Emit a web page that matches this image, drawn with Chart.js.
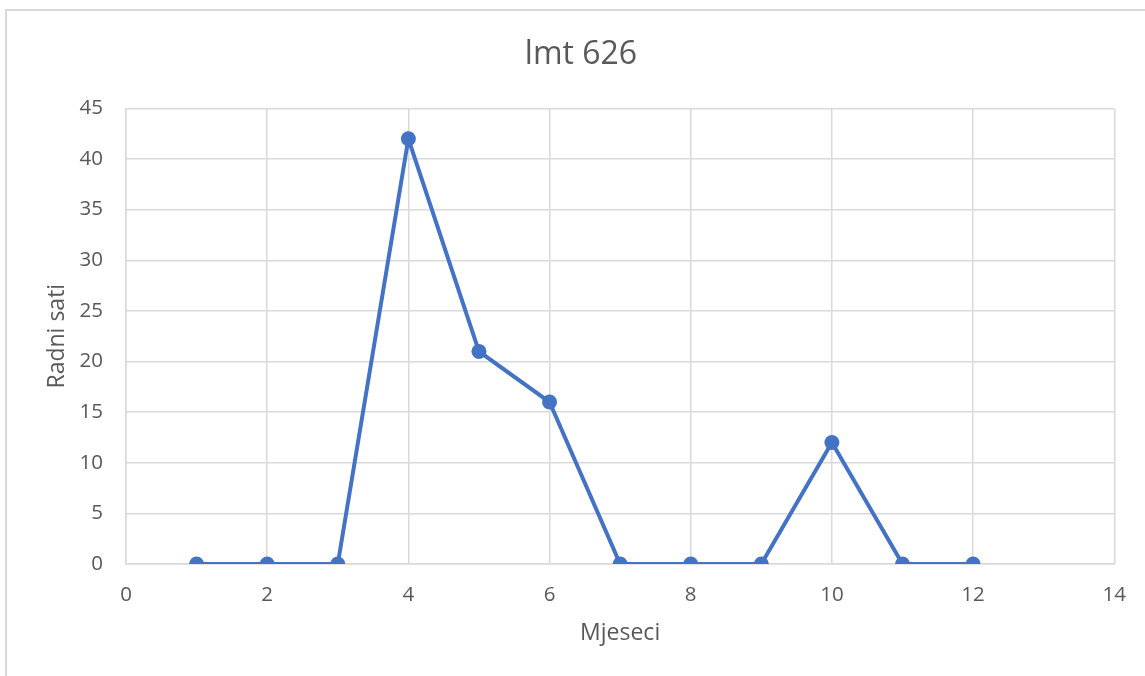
<!DOCTYPE html>
<html>
<head>
<meta charset="utf-8">
<script src="https://cdn.jsdelivr.net/npm/chart.js@4/dist/chart.umd.min.js"></script>
<style>
  html, body { margin: 0; padding: 0; background: #fff; overflow: hidden; }
  #frame { position: absolute; left: 5px; top: 9px; width: 1200px; height: 800px; border: 2px solid #d9d9d9; }
  #wrap { position: absolute; left: 0; top: 0; width: 1145px; height: 676px; }
</style>
</head>
<body>
<div id="frame"></div>
<div id="wrap"><canvas id="chart" width="1145" height="676"></canvas></div>
<script>
const months = [1, 2, 3, 4, 5, 6, 7, 8, 9, 10, 11, 12];
const hours = [0, 0, 0, 42, 21, 16, 0, 0, 0, 12, 0, 0];

const textColor = '#595959';
const gridColor = '#d9d9d9';
const fontFamily = '"Open Sans", "Liberation Sans", sans-serif';

const ctx = document.getElementById('chart').getContext('2d');
new Chart(ctx, {
  type: 'scatter',
  data: {
    datasets: [{
      label: 'lmt 626',
      data: months.map((m, i) => ({ x: m, y: hours[i] })),
      showLine: true,
      borderColor: '#4472c4',
      backgroundColor: '#4472c4',
      borderWidth: 4,
      pointRadius: 7.5,
      pointHoverRadius: 7.5,
      pointBorderWidth: 0,
      tension: 0,
    }],
  },
  options: {
    responsive: false,
    animation: false,
    // unequal side padding so the title centres on the frame, like Excel
    layout: { padding: { left: 46, right: 29, top: 0, bottom: 0 } },
    plugins: {
      legend: { display: false },
      tooltip: { enabled: false },
      title: {
        display: true,
        text: 'lmt 626',
        color: textColor,
        font: { family: fontFamily, size: 32, weight: 'normal' },
        padding: { top: 36, bottom: 34 },
      },
    },
    scales: {
      x: {
        type: 'linear',
        min: 0, max: 14,
        afterFit: s => { s.height = 112; },
        grid: { color: gridColor, lineWidth: 1.5, drawTicks: false },
        border: { color: gridColor, width: 1.5 },
        ticks: { stepSize: 2, color: textColor, padding: 19, font: { family: fontFamily, size: 20.5 } },
        title: {
          display: true, text: 'Mjeseci', color: textColor,
          font: { family: fontFamily, size: 23 },
          padding: { top: 0, bottom: 29 },
        },
      },
      y: {
        min: 0, max: 45,
        afterFit: s => { s.width = 80; },
        grid: { color: gridColor, lineWidth: 1.5, drawTicks: false },
        border: { color: gridColor, width: 1.5 },
        ticks: { stepSize: 5, color: textColor, padding: 23, font: { family: fontFamily, size: 20.5 } },
        title: {
          display: true, text: 'Radni sati', color: textColor,
          font: { family: fontFamily, size: 23, lineHeight: 1 },
          padding: { top: 0, bottom: 0 },
        },
      },
    },
  },
});
</script>
</body>
</html>
